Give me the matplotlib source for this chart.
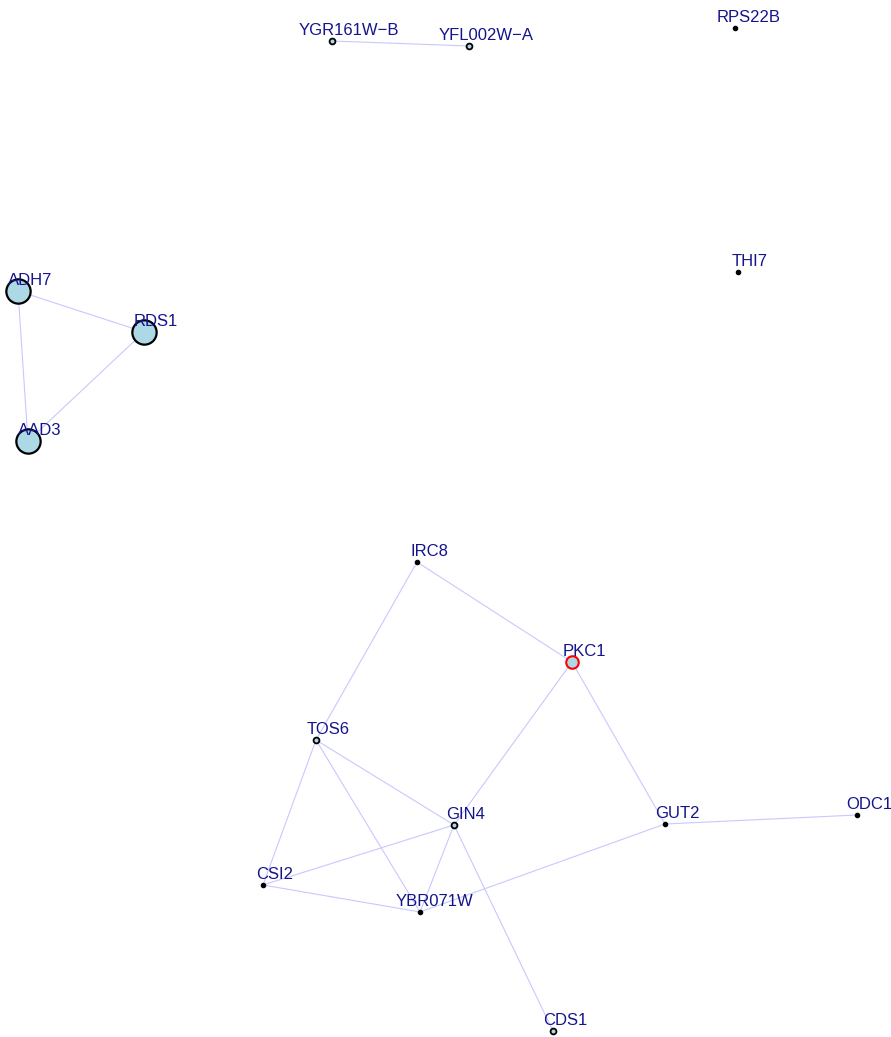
import matplotlib
matplotlib.use("Agg")
import matplotlib.pyplot as plt

# Node names and layout coordinates (pixel-like layout space, y downward)
names = ["YGR161W\u2212B", "YFL002W\u2212A", "RPS22B", "THI7", "ADH7", "RDS1", "AAD3",
         "IRC8", "PKC1", "TOS6", "GIN4", "GUT2", "ODC1", "CSI2", "YBR071W", "CDS1"]
xs = [332, 469, 735, 738, 18, 144, 28, 417, 572, 316, 454, 665, 857, 263, 420, 553]
ys = [41, 46, 28, 272, 291, 332, 441, 562, 662, 740, 825, 824, 815, 885, 912, 1031]
# vertex size class: 3 = large, 2 = medium, 1 = small ring, 0 = tiny dot
size_class = [1, 1, 0, 0, 3, 3, 3, 0, 2, 1, 1, 0, 0, 0, 0, 1]
highlight = ["PKC1"]

edges = [("YGR161W\u2212B", "YFL002W\u2212A"), ("ADH7", "RDS1"), ("ADH7", "AAD3"),
         ("RDS1", "AAD3"), ("IRC8", "TOS6"), ("IRC8", "PKC1"), ("PKC1", "GIN4"),
         ("PKC1", "GUT2"), ("TOS6", "CSI2"), ("TOS6", "GIN4"), ("TOS6", "YBR071W"),
         ("GIN4", "CSI2"), ("GIN4", "YBR071W"), ("GIN4", "CDS1"),
         ("CSI2", "YBR071W"), ("YBR071W", "GUT2"), ("GUT2", "ODC1")]

plt.rcParams['font.family'] = ['Liberation Sans', 'DejaVu Sans']
fig = plt.figure(figsize=(8.91, 10.37), dpi=100)
ax = fig.add_axes([0, 0, 1, 1])
ax.set_xlim(0, 891)
ax.set_ylim(1037, 0)
ax.axis('off')

idx = {n: i for i, n in enumerate(names)}
for a, b in edges:
    i, j = idx[a], idx[b]
    ax.plot([xs[i], xs[j]], [ys[i], ys[j]], color='#c8c8ff', lw=0.8, zorder=1)

for i, n in enumerate(names):
    c = size_class[i]
    if c == 3:
        ms, mew, fc, ec = 17.5, 1.6, '#add8e6', 'black'
    elif c == 2:
        ms, mew, fc, ec = 9, 1.5, '#add8e6', 'red'
    elif c == 1:
        ms, mew, fc, ec = 4.2, 1.3, '#add8e6', 'black'
    else:
        ms, mew, fc, ec = 3.2, 0.8, 'black', 'black'
    if n in highlight:
        ec = 'red'
    ax.plot(xs[i], ys[i], 'o', ms=ms, mfc=fc, mec=ec, mew=mew, zorder=3)
    off = 8 + len(n) * 1.0
    ax.text(xs[i] + off, ys[i] - 10.5, n, ha='center', va='center',
            fontsize=12, color='#14148c', zorder=4)

fig.savefig("out.png", dpi=100)
